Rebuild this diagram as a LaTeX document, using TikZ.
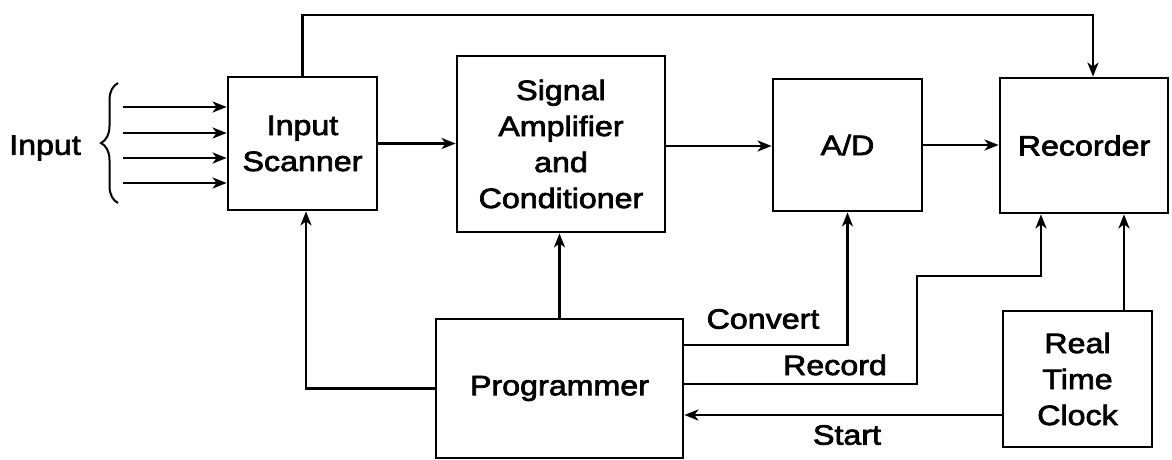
\documentclass[tikz,border=0pt]{standalone}
\usepackage{fontspec}
\setmainfont{Liberation Sans}[FakeStretch=1.15,FakeBold=2.5]
\usetikzlibrary{arrows.meta,decorations.pathreplacing}
\tikzset{
  blk/.style={draw, line width=2.8pt, inner sep=0pt, align=center, font=\fontsize{28}{36}\selectfont},
  lbl/.style={inner sep=0pt, font=\fontsize{28}{36}\selectfont},
  conn/.style={line width=2.6pt, -{Stealth[length=14pt,width=11pt,inset=4pt]}},
  wire/.style={line width=2.6pt}
}
\begin{document}
\begin{tikzpicture}[x=1pt,y=-1pt]
\useasboundingbox (0,0) rectangle (1172,459);
% blocks
\node[blk, minimum width=149pt, minimum height=133pt] (scan) at (302.5,143.5) {Input\\Scanner};
\node[blk, minimum width=208pt, minimum height=176pt] (amp) at (561,144) {Signal\\Amplifier\\and\\Conditioner};
\node[blk, minimum width=149pt, minimum height=132pt] (ad) at (847.5,145) {A/D};
\node[blk, minimum width=168pt, minimum height=135pt] (rec) at (1084,145.5) {Recorder};
\node[blk, minimum width=247pt, minimum height=139pt] (prog) at (559.5,388.5) {Programmer};
\node[blk, minimum width=149pt, minimum height=136pt] (rtc) at (1077.5,379) {Real\\Time\\Clock};
% input label and brace
\node[lbl] (inlbl) at (45,148) {Input};
\coordinate (brB) at (118,203);
\coordinate (brT) at (118,83);
\draw[line width=2pt, decorate, decoration={brace, amplitude=17pt}] (brB) -- (brT);
\foreach \yy [count=\i] in {107,133,158,183} {
  \coordinate (in\i) at (123,\yy);
  \draw[conn] (in\i) -- (in\i -| scan.west);
}
% main chain
\draw[conn] (scan.east) -- (scan.east -| amp.west);
\draw[conn] ([yshift=-2pt]amp.east) -- ([yshift=-2pt]amp.east -| ad.west);
\draw[conn] (ad.east) -- (ad.east -| rec.west);
% top feedback line
\coordinate (topR) at (1093,15);
\draw[conn] (scan.north) |- (topR) -- (topR |- rec.north);
% programmer to amp and scanner
\draw[conn] (prog.north) -- (prog.north |- amp.south);
\draw[conn] (prog.west) -| ([xshift=3.5pt]scan.south);
% convert
\coordinate (cvY) at (0,345);
\draw[conn] (prog.east |- cvY) -| (ad.south);
\node[lbl] (cvlbl) at (763,319) {Convert};
% record
\coordinate (rdY) at (0,384);
\coordinate (rd1) at (917,276);
\coordinate (rd2) at (1041,276);
\draw[conn] (prog.east |- rdY) -| (rd1) -- (rd2) -- (rd2 |- rec.south);
\node[lbl] (rdlbl) at (835,365) {Record};
% start
\coordinate (stY) at (0,415);
\draw[conn] (rtc.west |- stY) -- (prog.east |- stY);
\node[lbl] (stlbl) at (847,435) {Start};
% clock to recorder
\coordinate (clk) at (1124,0);
\draw[conn] (clk |- rtc.north) -- (clk |- rec.south);
\end{tikzpicture}
\end{document}
